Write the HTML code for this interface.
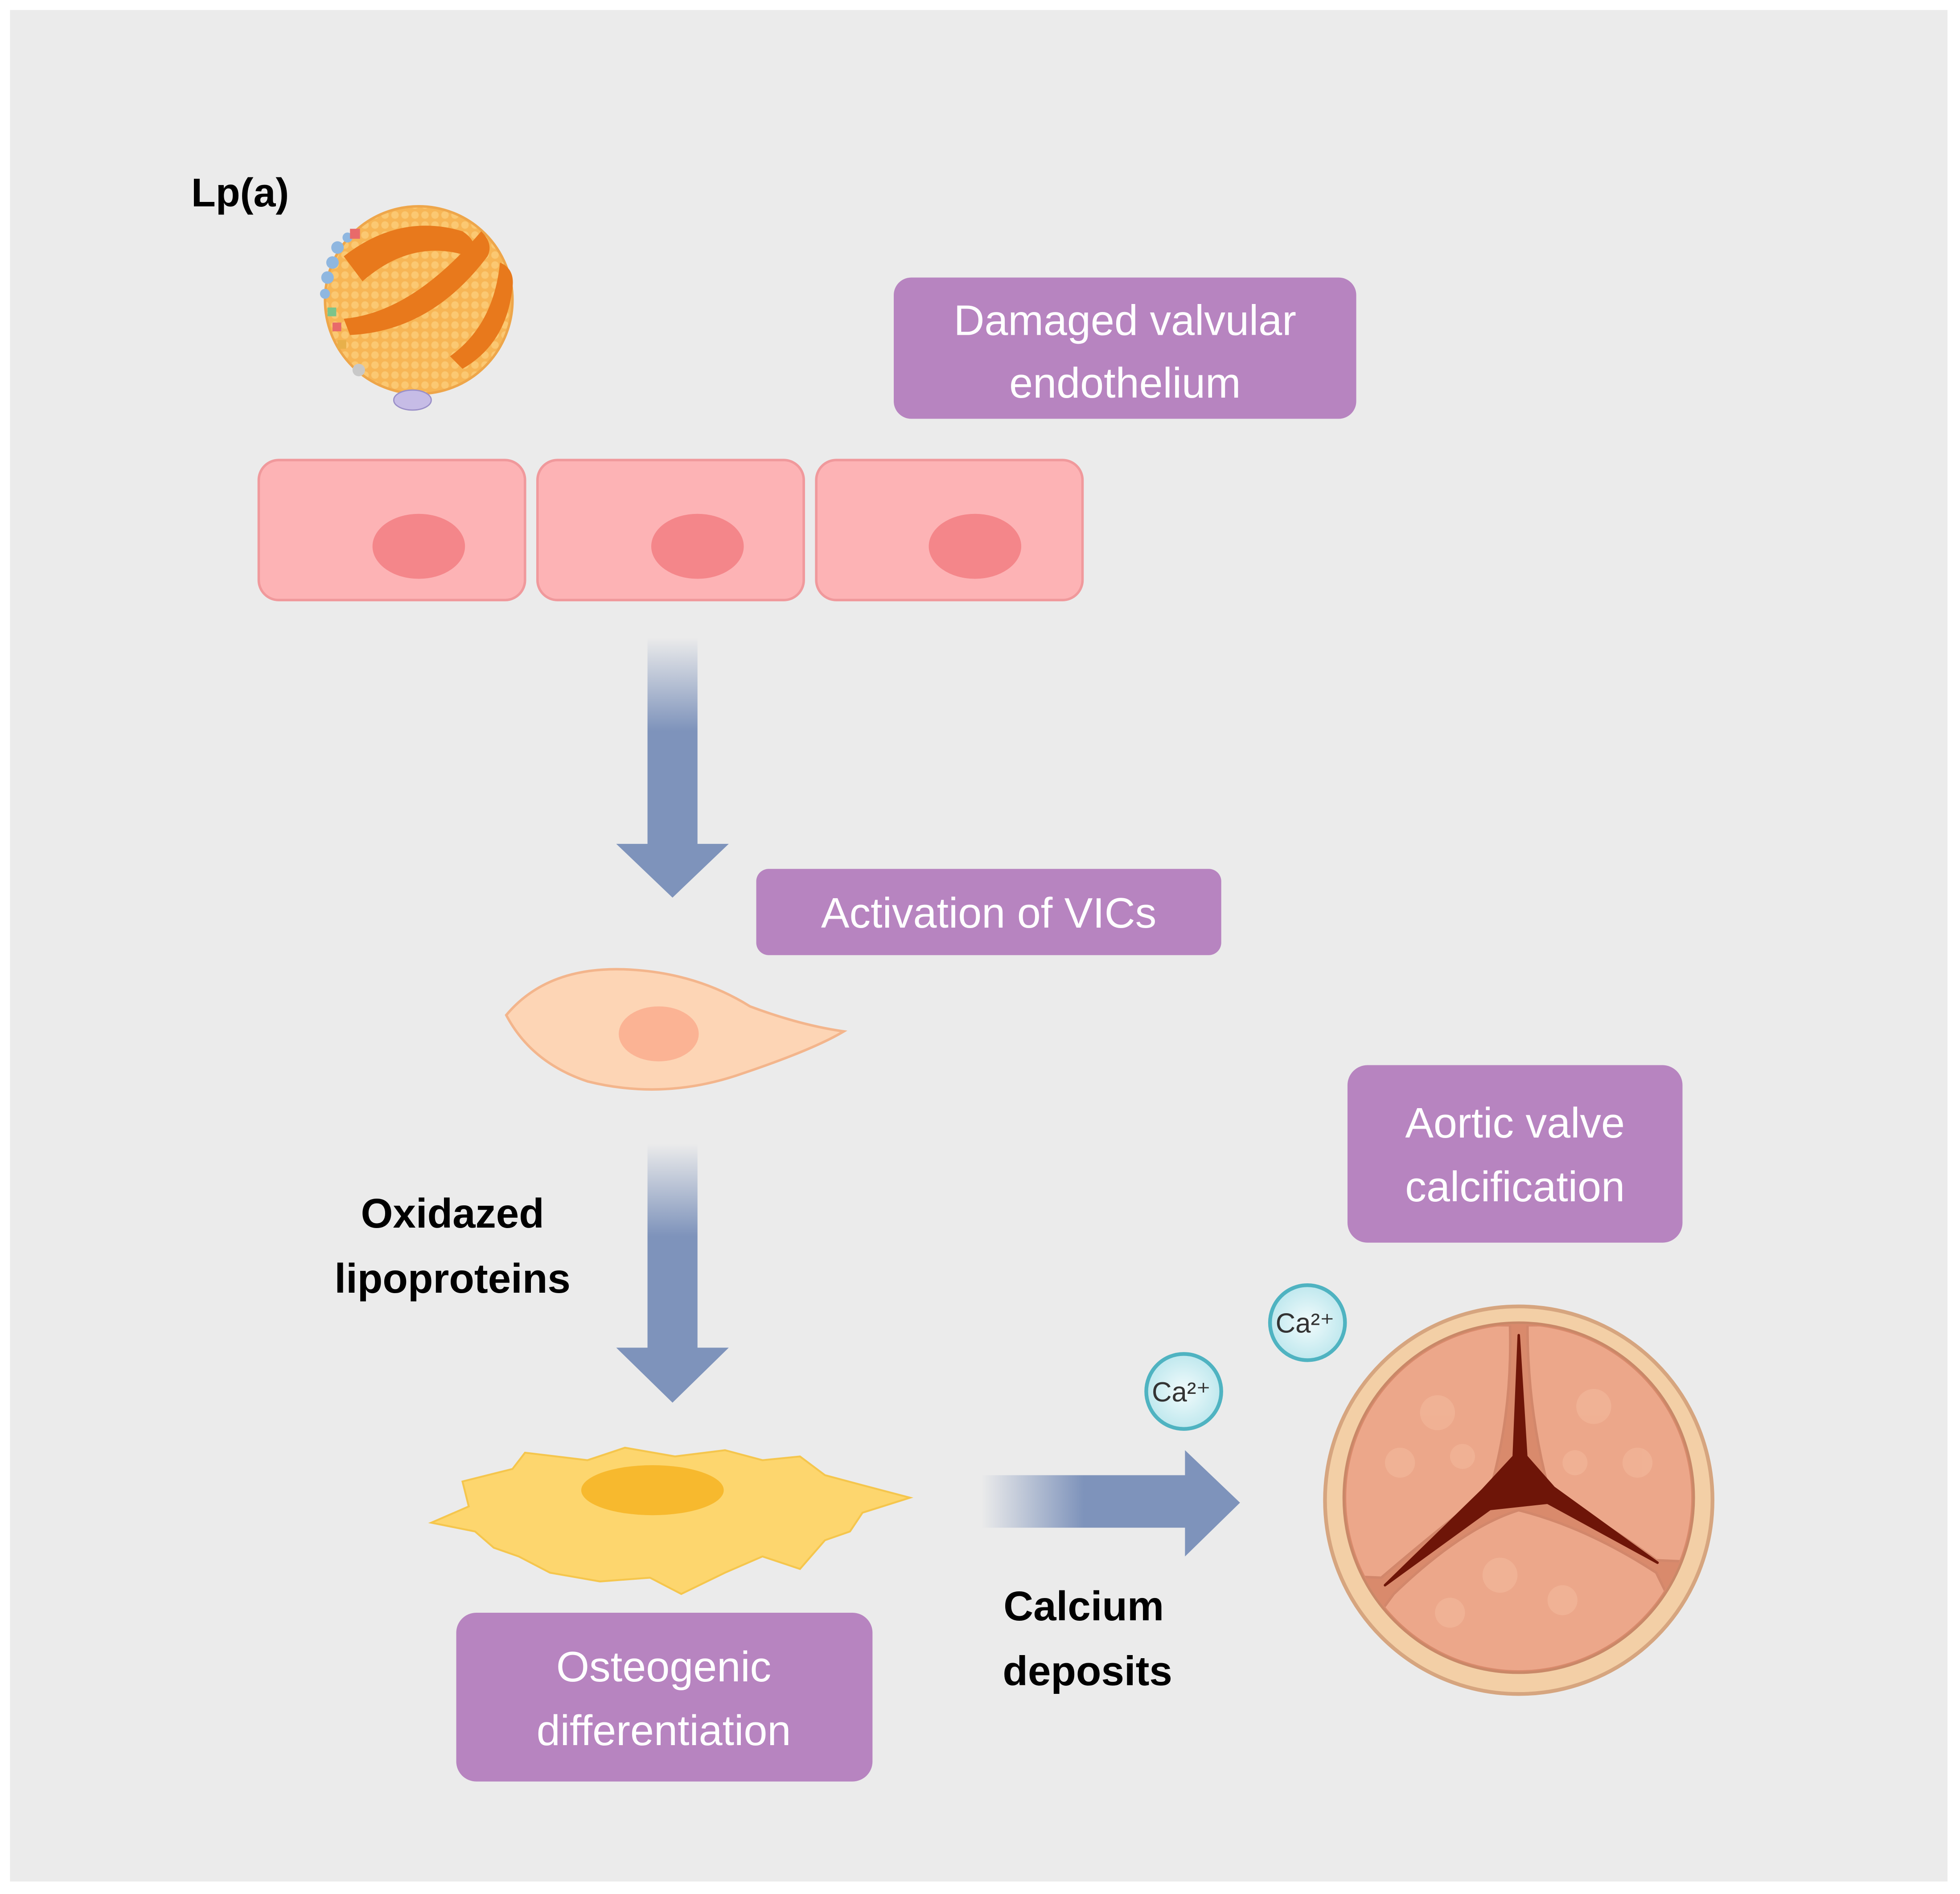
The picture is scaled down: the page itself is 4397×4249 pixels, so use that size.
<!DOCTYPE html>
<html><head><meta charset="utf-8"><style>
html,body{margin:0;padding:0;background:#fff;}
svg{display:block;}
text{font-family:"Liberation Sans",sans-serif;}
</style></head><body>
<svg width="4397" height="4249" viewBox="0 0 1568 1515" preserveAspectRatio="none" xmlns="http://www.w3.org/2000/svg">
<defs>
<linearGradient id="gv" x1="0" y1="0" x2="0" y2="1"><stop offset="0" stop-color="#7e93bb" stop-opacity="0"/><stop offset="0.45" stop-color="#7e93bb"/><stop offset="1" stop-color="#7e93bb"/></linearGradient>
<linearGradient id="gh" x1="0" y1="0" x2="1" y2="0"><stop offset="0" stop-color="#7e93bb" stop-opacity="0"/><stop offset="0.5" stop-color="#7e93bb"/><stop offset="1" stop-color="#7e93bb"/></linearGradient>
<pattern id="dots" width="8" height="8" patternUnits="userSpaceOnUse"><rect width="8" height="8" fill="#f7b656"/><circle cx="4" cy="4" r="3" fill="#fbc872"/></pattern>
<radialGradient id="ca"><stop offset="0" stop-color="#f2fbfc"/><stop offset="1" stop-color="#bfe8ee"/></radialGradient>
<clipPath id="vc"><circle cx="1215" cy="1198" r="138"/></clipPath>
</defs>
<rect x="0" y="0" width="1568" height="1515" fill="#fff"/>
<rect x="8" y="8" width="1550" height="1497" fill="#ebebeb"/>

<text x="153" y="165" font-size="32" font-weight="bold" fill="#000">Lp(a)</text>
<circle cx="335" cy="240" r="75" fill="url(#dots)" stroke="#eea64a" stroke-width="2"/>
<path d="M275 205 Q320 170 370 185 Q385 195 375 205 Q330 190 290 225 Z" fill="#e8791c"/>
<path d="M275 255 Q330 250 385 185 Q395 195 390 205 Q345 265 280 268 Z" fill="#e8791c"/>
<path d="M360 285 Q395 260 400 210 Q412 215 410 230 Q405 275 370 295 Z" fill="#e8791c"/>
<g fill="#8fb7e0"><circle cx="266" cy="210" r="5"/><circle cx="262" cy="222" r="5"/><circle cx="270" cy="198" r="5"/><circle cx="278" cy="190" r="4"/><circle cx="260" cy="235" r="4"/></g>
<g><rect x="280" y="183" width="8" height="8" fill="#e86a6a"/><rect x="262" y="246" width="7" height="7" fill="#7cc48a"/><rect x="266" y="258" width="7" height="7" fill="#e86a6a"/><rect x="270" y="272" width="7" height="7" fill="#e8b04a"/><circle cx="287" cy="296" r="5" fill="#c8c8c8"/></g>
<ellipse cx="330" cy="320" rx="15" ry="8" fill="#c6bce6" stroke="#9a8fc8"/>

<rect x="715" y="222" width="370" height="113" rx="14" fill="#b784c0"/>
<text x="900" y="268" font-size="34" fill="#fff" text-anchor="middle">Damaged valvular</text>
<text x="900" y="318" font-size="34" fill="#fff" text-anchor="middle">endothelium</text>

<g fill="#fdb3b5" stroke="#f0999c" stroke-width="2">
<rect x="207" y="368" width="213" height="112" rx="16"/>
<rect x="430" y="368" width="213" height="112" rx="16"/>
<rect x="653" y="368" width="213" height="112" rx="16"/>
</g>
<g fill="#f4868a"><ellipse cx="335" cy="437" rx="37" ry="26"/><ellipse cx="558" cy="437" rx="37" ry="26"/><ellipse cx="780" cy="437" rx="37" ry="26"/></g>

<rect x="518" y="510" width="40" height="166" fill="url(#gv)"/>
<polygon points="493,675 583,675 538,718" fill="#7e93bb"/>

<rect x="605" y="695" width="372" height="69" rx="10" fill="#b784c0"/>
<text x="791" y="742" font-size="34" fill="#fff" text-anchor="middle">Activation of VICs</text>

<path d="M405 812 Q440 770 510 776 Q560 780 600 805 Q640 820 675 825 Q650 840 590 860 Q530 880 470 865 Q425 850 405 812 Z" fill="#fdd5b5" stroke="#f3b58c" stroke-width="2"/>
<ellipse cx="527" cy="827" rx="32" ry="22" fill="#fbb394"/>

<rect x="518" y="915" width="40" height="164" fill="url(#gv)"/>
<polygon points="493,1078 583,1078 538,1122" fill="#7e93bb"/>

<text x="362" y="982" font-size="33" font-weight="bold" fill="#000" text-anchor="middle">Oxidazed</text>
<text x="362" y="1034" font-size="33" font-weight="bold" fill="#000" text-anchor="middle">lipoproteins</text>

<path d="M345 1218 L375 1205 L370 1185 L410 1175 L420 1162 L470 1168 L500 1158 L540 1165 L580 1160 L610 1168 L640 1165 L660 1180 L690 1188 L728 1198 L690 1210 L680 1225 L660 1232 L640 1255 L610 1245 L580 1258 L545 1275 L520 1262 L480 1265 L440 1258 L415 1245 L395 1238 L380 1225 Z" fill="#fdd66e" stroke="#f5c64d" stroke-width="1.5"/>
<ellipse cx="522" cy="1192" rx="57" ry="20" fill="#f7b92e"/>

<rect x="365" y="1290" width="333" height="135" rx="16" fill="#b784c0"/>
<text x="531" y="1345" font-size="34" fill="#fff" text-anchor="middle">Osteogenic</text>
<text x="531" y="1396" font-size="34" fill="#fff" text-anchor="middle">differentiation</text>

<rect x="785" y="1180" width="164" height="42" fill="url(#gh)"/>
<polygon points="948,1160 948,1245 992,1202" fill="#7e93bb"/>

<text x="867" y="1296" font-size="33" font-weight="bold" fill="#000" text-anchor="middle">Calcium</text>
<text x="870" y="1348" font-size="33" font-weight="bold" fill="#000" text-anchor="middle">deposits</text>

<circle cx="947" cy="1113" r="30" fill="url(#ca)" stroke="#4fb3c1" stroke-width="3"/>
<text x="945" y="1121" font-size="22" fill="#333" text-anchor="middle">Ca²⁺</text>
<circle cx="1046" cy="1058" r="30" fill="url(#ca)" stroke="#4fb3c1" stroke-width="3"/>
<text x="1044" y="1066" font-size="22" fill="#333" text-anchor="middle">Ca²⁺</text>

<rect x="1078" y="852" width="268" height="142" rx="16" fill="#b784c0"/>
<text x="1212" y="910" font-size="34" fill="#fff" text-anchor="middle">Aortic valve</text>
<text x="1212" y="961" font-size="34" fill="#fff" text-anchor="middle">calcification</text>

<circle cx="1215" cy="1200" r="155" fill="#f3cfa6" stroke="#d6a57f" stroke-width="3"/>
<circle cx="1215" cy="1198" r="140" fill="#d98a6c" stroke="#c98868" stroke-width="2"/>
<g clip-path="url(#vc)" fill="#eca78a" stroke="#d2876b" stroke-width="2">
<path d="M1208 1060 L1060 1060 L1060 1260 L1105 1262 Q1160 1215 1192 1192 Q1210 1130 1208 1060 Z"/>
<path d="M1222 1060 L1370 1060 L1370 1250 L1325 1248 Q1280 1215 1240 1195 Q1222 1130 1222 1060 Z"/>
<path d="M1115 1275 Q1170 1222 1215 1208 Q1270 1222 1325 1258 L1370 1350 L1060 1350 Z"/>
</g>
<g fill="#f3b99c" opacity="0.6"><circle cx="1150" cy="1130" r="14"/><circle cx="1120" cy="1170" r="12"/><circle cx="1170" cy="1165" r="10"/><circle cx="1275" cy="1125" r="14"/><circle cx="1310" cy="1170" r="12"/><circle cx="1260" cy="1170" r="10"/><circle cx="1200" cy="1260" r="14"/><circle cx="1250" cy="1280" r="12"/><circle cx="1160" cy="1290" r="12"/></g>
<path d="M1215 1068 L1211 1165 L1186 1192 L1108 1268 L1192 1207 L1238 1202 L1326 1250 L1243 1190 L1221 1165 Z" fill="#6e1508" stroke="#6e1508" stroke-width="2" stroke-linejoin="round"/>
</svg>
</body></html>
